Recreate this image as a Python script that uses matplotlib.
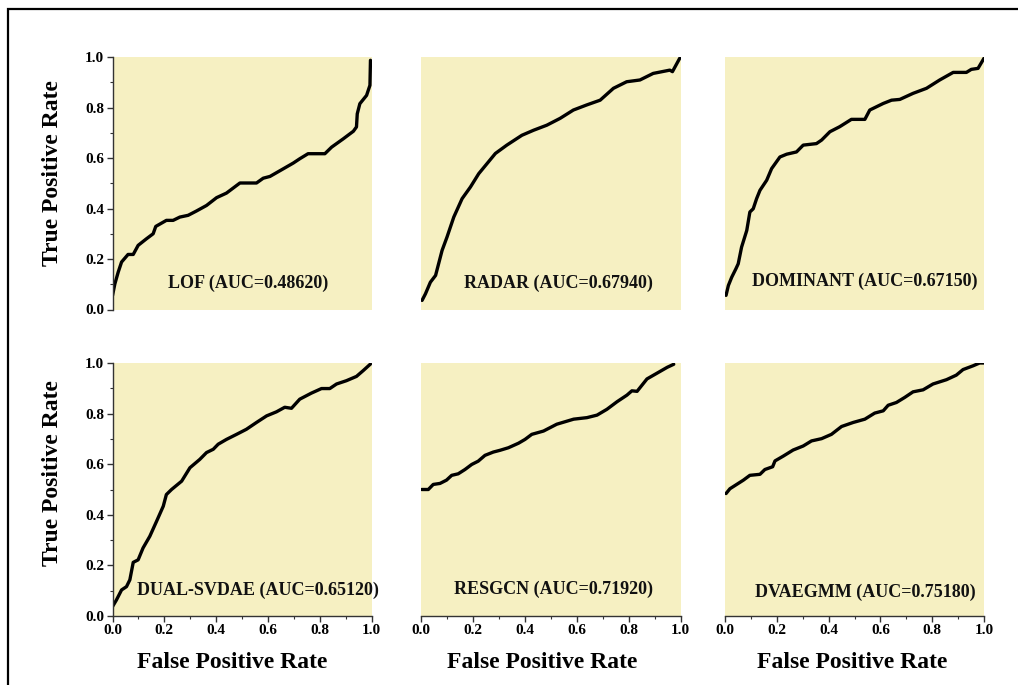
import matplotlib
matplotlib.use("Agg")
import matplotlib.pyplot as plt
from matplotlib.patches import Rectangle
from matplotlib.ticker import MultipleLocator, FormatStrFormatter

plt.rcParams["font.family"] = ["Liberation Serif", "DejaVu Serif"]
plt.rcParams["font.weight"] = "bold"

# ROC curves read per model
lof_fpr = [0.0, 0.009, 0.022, 0.035, 0.060, 0.080, 0.099, 0.131, 0.157, 0.167, 0.208, 0.234, 0.260,
           0.292, 0.324, 0.363, 0.402, 0.440, 0.492, 0.556, 0.582, 0.608, 0.659, 0.698, 0.723, 0.755,
           0.820, 0.846, 0.891, 0.930, 0.942, 0.945, 0.955, 0.981, 0.994, 0.996]
lof_tpr = [0.055, 0.101, 0.148, 0.188, 0.218, 0.218, 0.254, 0.280, 0.300, 0.329, 0.353, 0.353, 0.366,
           0.373, 0.390, 0.412, 0.443, 0.461, 0.501, 0.501, 0.520, 0.527, 0.557, 0.580, 0.597, 0.617,
           0.617, 0.643, 0.676, 0.706, 0.723, 0.775, 0.815, 0.848, 0.888, 0.987]

radar_fpr = [0.006, 0.019, 0.038, 0.058, 0.083, 0.102, 0.128, 0.160, 0.192, 0.224, 0.256, 0.288, 0.332,
             0.390, 0.435, 0.486, 0.537, 0.588, 0.639, 0.691, 0.742, 0.793, 0.844, 0.895, 0.959, 0.969,
             0.997]
radar_tpr = [0.036, 0.062, 0.108, 0.135, 0.234, 0.287, 0.366, 0.439, 0.485, 0.538, 0.578, 0.618, 0.651,
             0.690, 0.710, 0.730, 0.757, 0.790, 0.810, 0.829, 0.876, 0.902, 0.909, 0.935, 0.948, 0.942,
             0.995]

dominant_fpr = [0.004, 0.013, 0.026, 0.042, 0.051, 0.064, 0.084, 0.096, 0.109, 0.122, 0.135, 0.161, 0.180,
                0.212, 0.238, 0.276, 0.302, 0.353, 0.373, 0.405, 0.443, 0.488, 0.540, 0.559, 0.611, 0.643,
                0.675, 0.726, 0.778, 0.829, 0.881, 0.932, 0.951, 0.977, 1.0]
dominant_tpr = [0.056, 0.095, 0.128, 0.161, 0.181, 0.247, 0.313, 0.386, 0.399, 0.439, 0.472, 0.512, 0.558,
                0.604, 0.615, 0.624, 0.651, 0.657, 0.671, 0.704, 0.724, 0.753, 0.753, 0.790, 0.816, 0.829,
                0.832, 0.856, 0.876, 0.909, 0.939, 0.939, 0.951, 0.955, 0.995]

dual_fpr = [0.0, 0.015, 0.035, 0.054, 0.067, 0.080, 0.099, 0.118, 0.144, 0.170, 0.196, 0.208, 0.228, 0.267,
            0.299, 0.337, 0.363, 0.389, 0.408, 0.440, 0.479, 0.517, 0.556, 0.595, 0.633, 0.665, 0.691,
            0.723, 0.768, 0.807, 0.839, 0.865, 0.903, 0.942, 0.968, 0.996]
dual_tpr = [0.037, 0.063, 0.103, 0.116, 0.143, 0.212, 0.222, 0.269, 0.315, 0.374, 0.434, 0.480, 0.500, 0.533,
            0.586, 0.619, 0.646, 0.659, 0.679, 0.698, 0.718, 0.738, 0.765, 0.791, 0.807, 0.825, 0.821,
            0.857, 0.881, 0.899, 0.899, 0.917, 0.930, 0.947, 0.970, 0.996]

resgcn_fpr = [0.004, 0.030, 0.049, 0.075, 0.100, 0.120, 0.145, 0.171, 0.197, 0.222, 0.248, 0.280, 0.306,
              0.338, 0.377, 0.402, 0.428, 0.473, 0.524, 0.589, 0.640, 0.679, 0.717, 0.756, 0.794, 0.813,
              0.833, 0.871, 0.910, 0.949, 0.974]
resgcn_tpr = [0.500, 0.500, 0.520, 0.524, 0.537, 0.556, 0.562, 0.579, 0.599, 0.612, 0.635, 0.648, 0.655,
              0.665, 0.683, 0.698, 0.718, 0.731, 0.758, 0.778, 0.784, 0.794, 0.817, 0.847, 0.873, 0.890,
              0.888, 0.937, 0.960, 0.983, 0.995]

dvaegmm_fpr = [0.004, 0.019, 0.045, 0.071, 0.096, 0.135, 0.154, 0.184, 0.193, 0.225, 0.263, 0.302, 0.334,
               0.373, 0.411, 0.450, 0.495, 0.540, 0.578, 0.611, 0.630, 0.662, 0.694, 0.726, 0.765, 0.803,
               0.855, 0.893, 0.919, 0.958, 0.983, 1.0]
dvaegmm_tpr = [0.484, 0.503, 0.520, 0.537, 0.556, 0.560, 0.579, 0.590, 0.613, 0.632, 0.656, 0.672, 0.692,
               0.701, 0.718, 0.749, 0.765, 0.778, 0.802, 0.811, 0.833, 0.844, 0.864, 0.886, 0.894, 0.917,
               0.934, 0.952, 0.974, 0.989, 1.0, 1.0]

models = ["LOF", "RADAR", "DOMINANT", "DUAL-SVDAE", "RESGCN", "DVAEGMM"]
aucs = ["0.48620", "0.67940", "0.67150", "0.65120", "0.71920", "0.75180"]
curves = [(lof_fpr, lof_tpr), (radar_fpr, radar_tpr), (dominant_fpr, dominant_tpr),
          (dual_fpr, dual_tpr), (resgcn_fpr, resgcn_tpr), (dvaegmm_fpr, dvaegmm_tpr)]

W, H = 1018, 685
fig = plt.figure(figsize=(W / 100, H / 100), dpi=100)
fig.patch.set_facecolor("white")

# marco exterior
fig.patches.append(Rectangle((8 / W, -0.1), 1.2, 1.1 - 9 / H, transform=fig.transFigure,
                             fill=False, edgecolor="black", linewidth=1.6))

col_left = [112.5, 420.5, 725]
col_w = [259, 260, 259]
row_top = [57, 363]
row_h = [252.5, 253]
label_pos = [(0.525, 0.105), (0.531, 0.105), (0.54, 0.11), (0.56, 0.10), (0.51, 0.105), (0.54, 0.095)]

for i, (name, auc, (fpr, tpr)) in enumerate(zip(models, aucs, curves)):
    r, c = divmod(i, 3)
    ax = fig.add_axes([col_left[c] / W, 1 - (row_top[r] + row_h[r]) / H, col_w[c] / W, row_h[r] / H])
    ax.set_facecolor("#F6F0C2")
    ax.plot(fpr, tpr, color="black", lw=2.4, solid_capstyle="round", solid_joinstyle="round")
    ax.set_xlim(0, 1)
    ax.set_ylim(0, 1)
    for s in ["top", "right"]:
        ax.spines[s].set_visible(False)
    ax.spines["left"].set_visible(c == 0)
    ax.spines["bottom"].set_visible(r == 1)
    for s in ["left", "bottom"]:
        ax.spines[s].set_color("#333333")
        ax.spines[s].set_linewidth(1.0)
    ax.xaxis.set_major_locator(MultipleLocator(0.2))
    ax.xaxis.set_minor_locator(MultipleLocator(0.1))
    ax.yaxis.set_major_locator(MultipleLocator(0.2))
    ax.yaxis.set_minor_locator(MultipleLocator(0.1))
    ax.xaxis.set_major_formatter(FormatStrFormatter("%.1f"))
    ax.yaxis.set_major_formatter(FormatStrFormatter("%.1f"))
    ax.tick_params(which="major", direction="out", length=4, width=1, color="#333333",
                   labelsize=11, pad=2)
    ax.tick_params(which="minor", direction="out", length=2.5, width=0.8, color="#333333")
    ax.tick_params(axis="x", which="both", bottom=(r == 1), labelbottom=(r == 1))
    ax.tick_params(axis="y", which="both", left=(c == 0), labelleft=(c == 0))
    for lab in ax.get_xticklabels() + ax.get_yticklabels():
        lab.set_fontweight("bold")
    lx, ly = label_pos[i]
    ax.text(lx, ly, f"{name} (AUC={auc})", transform=ax.transAxes, ha="center", va="center",
            fontsize=13, fontweight="bold", color="#111111")

# títulos de ejes
for yc in [173, 473]:
    fig.text(53 / W, 1 - yc / H, "True Positive Rate", rotation=90, ha="center", va="center",
             fontsize=17, fontweight="bold")
for xc in [232, 542, 852]:
    fig.text(xc / W, 1 - 663 / H, "False Positive Rate", ha="center", va="center",
             fontsize=17, fontweight="bold")

fig.savefig("out.png", dpi=100)
